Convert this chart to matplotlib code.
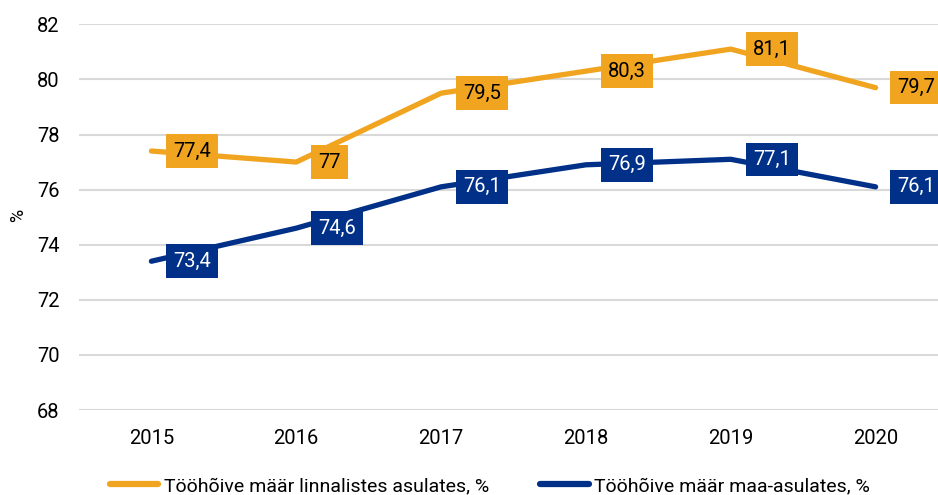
import matplotlib
matplotlib.use("Agg")
import matplotlib.pyplot as plt
from matplotlib.lines import Line2D

plt.rcParams['font.family'] = ['Roboto', 'DejaVu Sans']

years = ["2015", "2016", "2017", "2018", "2019", "2020"]
urban = [77.4, 77.0, 79.5, 80.3, 81.1, 79.7]
rural = [73.4, 74.6, 76.1, 76.9, 77.1, 76.1]
urban_labels = ["77,4", "77", "79,5", "80,3", "81,1", "79,7"]
rural_labels = ["73,4", "74,6", "76,1", "76,9", "77,1", "76,1"]
series_names = ["Tööhõive määr linnalistes asulates, %", "Tööhõive määr maa-asulates, %"]
yticks = [68, 70, 72, 74, 76, 78, 80, 82]

ORANGE = "#F0A420"
BLUE = "#003087"
FS = 14.5

fig = plt.figure(figsize=(9.38, 4.95), dpi=100)
ax = fig.add_axes([79/938, 1-410/495, 869/938, (410-24.3)/495])

x = list(range(len(years)))
ax.plot(x, urban, color=ORANGE, lw=3.8, solid_capstyle='round', zorder=3)
ax.plot(x, rural, color=BLUE, lw=3.8, solid_capstyle='round', zorder=3)

for xi, v, lab in zip(x, urban, urban_labels):
    ax.annotate(lab, (xi, v), xytext=(22, 0), textcoords='offset pixels',
                ha='left', va='center', fontsize=FS, color='black', zorder=5,
                bbox=dict(boxstyle='square,pad=0.36', fc=ORANGE, ec='none'))
for xi, v, lab in zip(x, rural, rural_labels):
    ax.annotate(lab, (xi, v), xytext=(22, 0), textcoords='offset pixels',
                ha='left', va='center', fontsize=FS, color='white', zorder=5,
                bbox=dict(boxstyle='square,pad=0.36', fc=BLUE, ec='none'))

ax.set_xlim(-0.5, len(years) - 0.5)
ax.set_ylim(68, 82)
ax.set_yticks(yticks)
ax.set_yticklabels([str(t) for t in yticks])
ax.set_xticks(x)
ax.set_xticklabels(years)
ax.tick_params(axis='both', length=0, labelsize=FS)
ax.tick_params(axis='y', pad=14)
ax.tick_params(axis='x', pad=14)
ax.grid(axis='y', color='#D9D9D9', lw=1.5)
ax.set_axisbelow(True)
for s in ax.spines.values():
    s.set_visible(False)

fig.text(18/938, 1-215/495, "%", rotation=90, ha='center', va='center', fontsize=13)

handles = [Line2D([0], [0], color=ORANGE, lw=4.5, solid_capstyle='round'),
           Line2D([0], [0], color=BLUE, lw=4.5, solid_capstyle='round')]
fig.legend(handles, series_names, loc='center', bbox_to_anchor=(0.5 * (114 + 866) / 938, 1-486/495),
           ncol=2, frameon=False, fontsize=14, handlelength=2.5, handletextpad=0.3,
           columnspacing=2.6, borderpad=0, borderaxespad=0)

fig.savefig("out.png", dpi=100)
